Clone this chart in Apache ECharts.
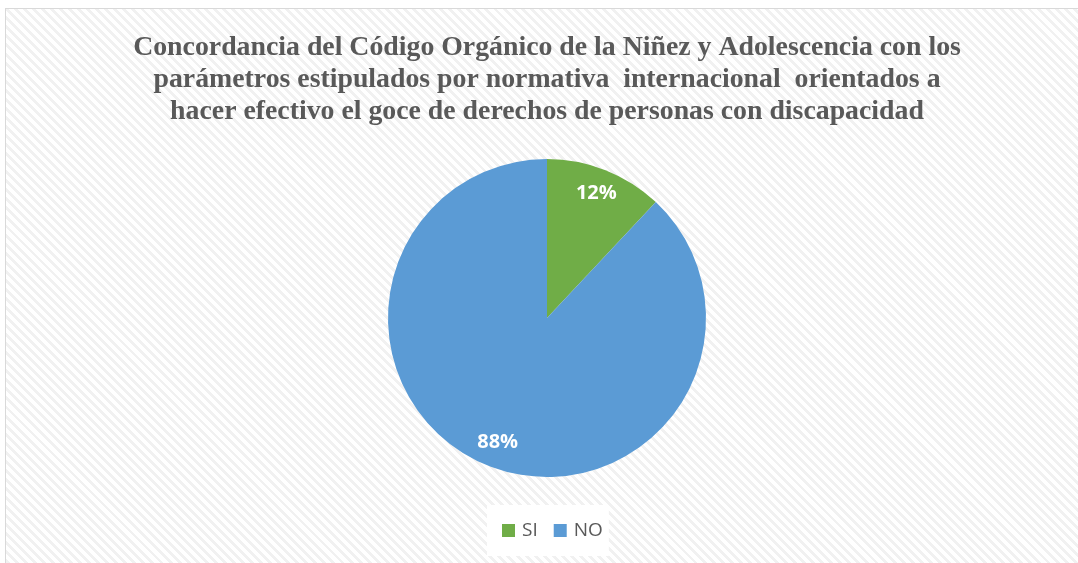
<!DOCTYPE html>
<html>
<head>
<meta charset="utf-8">
<script src="https://cdn.jsdelivr.net/npm/echarts@6/dist/echarts.min.js"></script>
<style>
html,body{margin:0;padding:0;background:#fff;}
#wrap{position:relative;width:1078px;height:563px;overflow:hidden;background:#fff;}
#bg{position:absolute;left:5px;top:8px;width:1090px;height:570px;box-sizing:border-box;border:1px solid #d9d9d9;
background:repeating-linear-gradient(45deg,#ffffff 0px,#ffffff 3.6px,#f1f1f1 3.6px,#f1f1f1 6.4px);}
#chart{position:absolute;left:0;top:0;width:1078px;height:563px;}
</style>
</head>
<body>
<div id="wrap"><div id="bg"></div><div id="chart"></div></div>
<script>
var titleLines = [
  'Concordancia del Código Orgánico de la Niñez y Adolescencia con los',
  'parámetros estipulados por normativa  internacional  orientados a',
  'hacer efectivo el goce de derechos de personas con discapacidad'
];
var categories = ['SI', 'NO'];
var values = [12, 88];
var colors = ['#70ad47', '#5b9bd5'];

var pieData = categories.map(function (c, i) {
  return { name: c, value: values[i], itemStyle: { color: colors[i] } };
});
var labelData = categories.map(function (c, i) {
  return { name: c, value: values[i] };
});

var chart = echarts.init(document.getElementById('chart'), null, { renderer: 'canvas' });
chart.setOption({
  backgroundColor: 'transparent',
  animation: false,
  title: {
    text: titleLines.join('\n'),
    left: 542,
    textAlign: 'center',
    top: 27,
    padding: 5,
    textStyle: {
      fontFamily: 'Liberation Serif',
      fontWeight: 'bold',
      fontSize: 27.8,
      lineHeight: 32,
      color: '#595959'
    }
  },
  legend: {
    data: categories,
    top: 505,
    left: 487,
    itemWidth: 13,
    itemHeight: 13,
    itemGap: 16,
    icon: 'rect',
    backgroundColor: '#ffffff',
    padding: [16, 6, 16, 15],
    textStyle: { fontFamily: 'Open Sans', fontSize: 19, color: '#595959', padding: [0, 0, 0, 2] }
  },
  series: [
    {
      type: 'pie',
      center: [547, 318],
      radius: [0, 159],
      startAngle: 90,
      clockwise: true,
      label: { show: false },
      labelLine: { show: false },
      itemStyle: { borderWidth: 0 },
      emphasis: { disabled: true },
      data: pieData
    },
    {
      type: 'pie',
      center: [547, 318],
      radius: [103, 159],
      startAngle: 90,
      clockwise: true,
      silent: true,
      legendHoverLink: false,
      itemStyle: { color: 'rgba(0,0,0,0)' },
      label: {
        show: true,
        position: 'inside',
        formatter: '{d}%',
        color: '#ffffff',
        fontFamily: 'Open Sans',
        fontWeight: 'bold',
        fontSize: 20,
        padding: [4, 0, 0, 0]
      },
      labelLine: { show: false },
      emphasis: { disabled: true },
      data: labelData
    }
  ]
});
</script>
</body>
</html>
